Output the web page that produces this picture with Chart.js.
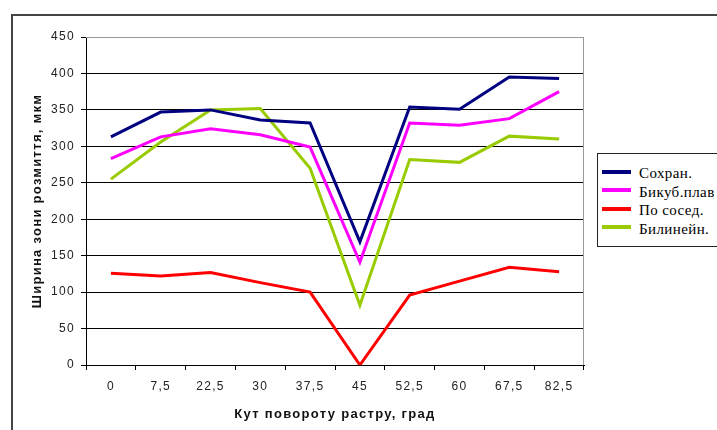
<!DOCTYPE html>
<html>
<head>
<meta charset="utf-8">
<script src="https://cdn.jsdelivr.net/npm/chart.js@4"></script>
<style>
    html, body { margin: 0; padding: 0; background: #fff; }
    #wrap { position: relative; width: 717px; height: 430px; overflow: hidden; }
    #frame { position: absolute; left: 11px; top: 14px; width: 800px; height: 500px; border: 2px solid #444; box-sizing: border-box; }
    canvas { position: absolute; left: 0; top: 0; }
    #legend { position: absolute; left: 597px; top: 153px; width: 140px; height: 94px; border: 1px solid #222; box-sizing: border-box; background: #fff;
        font-family: "Liberation Serif", "DejaVu Serif", serif; font-size: 15px; letter-spacing: 0.4px; color: #000; }
    .item { position: absolute; left: 4px; height: 18px; line-height: 18px; white-space: nowrap; }
    .swatch { display: inline-block; width: 29px; height: 4px; vertical-align: middle; margin-right: 8px; position: relative; top: -3px; }
</style>
</head>
<body>
<div id="wrap">
    <div id="frame"></div>
    <canvas id="chart" width="717" height="430"></canvas>
    <div id="legend"></div>
</div>
<script>
// angle of raster rotation, deg
const angles = ["0", "7,5", "22,5", "30", "37,5", "45", "52,5", "60", "67,5", "82,5"];

const sokhran = [313, 347, 350, 336, 332, 169, 354, 351, 395, 393];
const bikub = [283, 313, 324, 316, 299, 141, 332, 329, 338, 375];
const posused = [126, 122, 127, 113, 100, 0, 96, 115, 134, 128];
const bilinein = [255, 306, 350, 352, 270, 82, 282, 278, 314, 310];

const seriesNames = ["Сохран.", "Бикуб.плав", "По сосед.", "Билинейн."];
const seriesColors = ["#000080", "#ff00ff", "#ff0000", "#99cc00"];
const seriesData = [sokhran, bikub, posused, bilinein];

const axisFont = { family: "'Liberation Sans', Arial, sans-serif", size: 12 };
const titleFont = { family: "'Liberation Sans', Arial, sans-serif", size: 13, weight: "bold" };

// grey border on top/right of the plot area, like Excel
const plotBorder = {
    id: "plotBorder",
    beforeDraw(chart) {
        // Excel spaces its glyphs out a bit
        chart.ctx.letterSpacing = "1.3px";
    },
    beforeDatasetsDraw(chart) {
        const { ctx, chartArea } = chart;
        ctx.save();
        ctx.strokeStyle = "#999";
        ctx.lineWidth = 1;
        ctx.beginPath();
        ctx.moveTo(chartArea.left, chartArea.top + 0.5);
        ctx.lineTo(chartArea.right - 0.5, chartArea.top + 0.5);
        ctx.lineTo(chartArea.right - 0.5, chartArea.bottom);
        ctx.stroke();
        ctx.restore();
    }
};

const chart = new Chart(document.getElementById("chart"), {
    type: "line",
    data: {
        labels: angles,
        datasets: seriesData.map((d, i) => ({
            label: seriesNames[i],
            data: d,
            borderColor: seriesColors[i],
            backgroundColor: seriesColors[i],
            borderWidth: 3,
            pointRadius: 0,
            tension: 0,
        })),
    },
    options: {
        responsive: false,
        animation: false,
        events: [],
        layout: { padding: { left: 0, top: 37, right: 133, bottom: 0 } },
        plugins: {
            legend: { display: false },
            tooltip: { enabled: false },
        },
        scales: {
            x: {
                offset: true,
                grid: { offset: true, drawOnChartArea: false, drawTicks: true, tickLength: 5, color: "#000" },
                border: { color: "#000", width: 1 },
                ticks: { font: axisFont, color: "#222", padding: 9, maxRotation: 0, autoSkip: false },
                title: { display: true, text: "Кут повороту растру, град", font: titleFont, color: "#111", padding: { top: 4, bottom: 8 } },
                afterFit(scale) { scale.height = 65; },
            },
            y: {
                min: 0,
                max: 450,
                ticks: { stepSize: 50, font: axisFont, color: "#222", padding: 6 },
                grid: {
                    color: (c) => (c.tick && c.tick.value === 450 ? "#999" : "#000"),
                    tickColor: "#000",
                    tickLength: 5,
                },
                border: { color: "#000", width: 1 },
                title: { display: true, text: "Ширина зони розмиття, мкм", font: titleFont, color: "#111", padding: { top: 30, bottom: 0 } },
                afterFit(scale) { scale.width = 86; },
            },
        },
    },
    plugins: [plotBorder],
});

// legend built from the chart's datasets
const legend = document.getElementById("legend");
chart.data.datasets.forEach((ds, i) => {
    const row = document.createElement("div");
    row.className = "item";
    row.style.top = (10 + i * 18.5) + "px";
    const sw = document.createElement("span");
    sw.className = "swatch";
    sw.style.background = ds.borderColor;
    row.appendChild(sw);
    row.appendChild(document.createTextNode(ds.label));
    legend.appendChild(row);
});
</script>
</body>
</html>
